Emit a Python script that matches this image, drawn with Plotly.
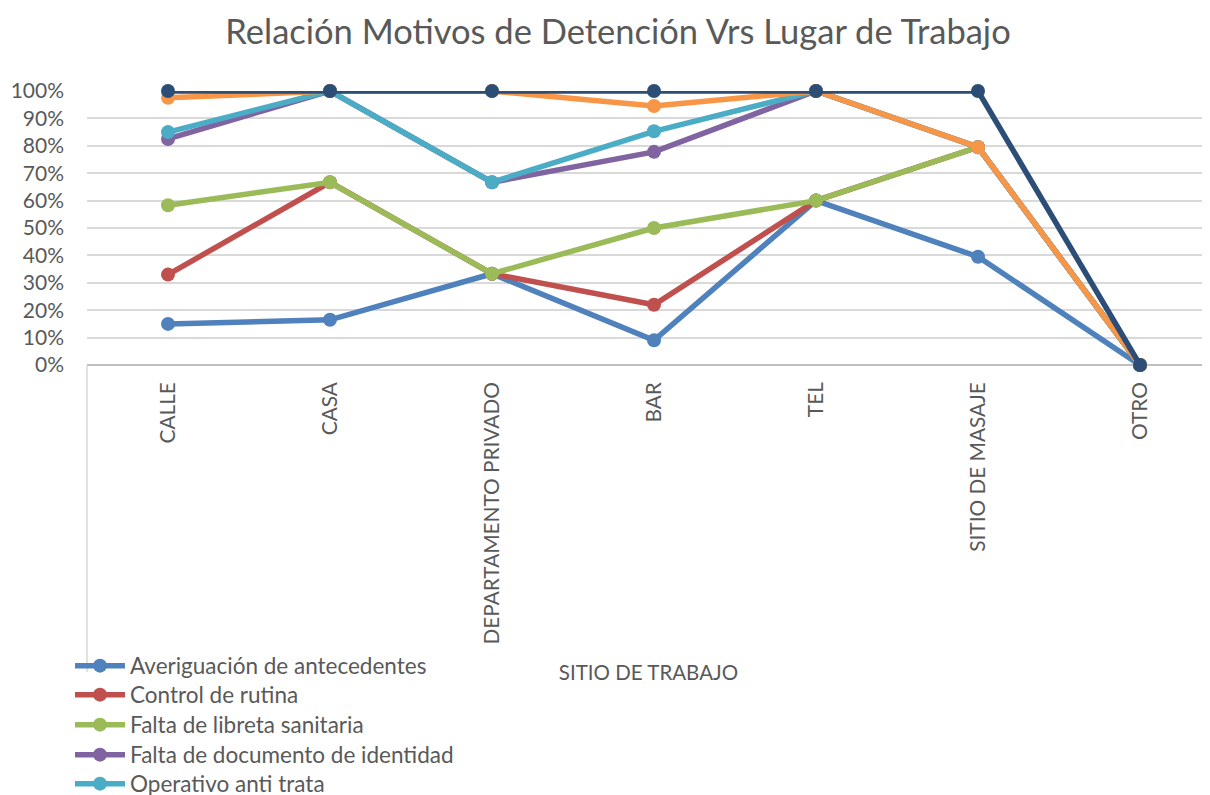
import plotly.graph_objects as go

categories = ["CALLE", "CASA", "DEPARTAMENTO PRIVADO", "BAR", "TEL", "SITIO DE MASAJE", "OTRO"]

averiguacion = [0.15, 0.165, 0.333, 0.09, 0.60, 0.395, 0.0]
control_rutina = [0.33, 0.667, 0.333, 0.22, 0.60, 0.795, 0.0]
falta_libreta = [0.583, 0.667, 0.333, 0.50, 0.60, 0.795, 0.0]
falta_documento = [0.825, 1.0, 0.667, 0.778, 1.0, 0.795, 0.0]
operativo = [0.85, 1.0, 0.667, 0.853, 1.0, 0.795, 0.0]
otros = [0.975, 1.0, 1.0, 0.945, 1.0, 0.795, 0.0]
total = [1.0, 1.0, 1.0, 1.0, 1.0, 1.0, 0.0]

series_names = [
    "Averiguación de antecedentes",
    "Control de rutina",
    "Falta de libreta sanitaria",
    "Falta de documento de identidad",
    "Operativo anti trata",
    "Otros",
    "Total",
]
series_values = [averiguacion, control_rutina, falta_libreta, falta_documento, operativo, otros, total]
colors = ["#4F81BD", "#C0504D", "#9BBB59", "#8064A2", "#4BACC6", "#F79646", "#2C4D75"]

FONT = "Lato"
TXT = "#595959"

OFF = 8  # page body margin
W, H = 1210 - OFF, 795 - OFF
plot_top, plot_bottom, plot_left = 91 - OFF, 365 - OFF, 87 - OFF
plot_h = plot_bottom - plot_top
plot_w = W - plot_left

def py(pix):
    return (plot_bottom - (pix - OFF)) / plot_h

def px(pix):
    return ((pix - OFF) - plot_left) / plot_w

legend_centers = [666, 695, 725, 755, 784]
legend_ids = ["legend", "legend2", "legend3", "legend4", "legend5"]

fig = go.Figure()
for i, (name, vals, col) in enumerate(zip(series_names, series_values, colors)):
    kw = {}
    if i < 5:
        kw["legend"] = legend_ids[i]
        kw["showlegend"] = True
    else:
        kw["showlegend"] = False
    fig.add_trace(go.Scatter(
        x=categories, y=vals, name=name, mode="lines+markers",
        line=dict(color=col, width=5.5),
        marker=dict(color=col, size=14),
        cliponaxis=False,
        **kw,
    ))

layout_legends = {}
for i, lid in enumerate(legend_ids):
    layout_legends[lid] = dict(
        x=px(70), xanchor="left",
        y=py(legend_centers[i]), yanchor="middle",
        bgcolor="rgba(0,0,0,0)", borderwidth=0,
        font=dict(family=FONT, size=22.5, color=TXT),
        itemwidth=50,
    )

fig.update_layout(
    width=W, height=H,
    paper_bgcolor="white", plot_bgcolor="white",
    margin=dict(l=plot_left, r=0, t=plot_top, b=H - plot_bottom, autoexpand=False),
    title=dict(
        text="Relación Motivos de Detención Vrs Lugar de Trabajo",
        x=(618 - OFF) / W, xanchor="center", xref="container",
        y=1 - (32 - OFF) / H, yanchor="middle", yref="container",
        font=dict(family=FONT, size=34.5, color=TXT),
    ),
    font=dict(family=FONT, color=TXT),
    xaxis=dict(
        type="category",
        range=[-0.5, 0.5 * plot_w / (168 - OFF - plot_left) - 0.5],
        showgrid=False, zeroline=False,
        showline=False,
        tickangle=-90,
        ticks="",
        ticklabelstandoff=12,
        tickfont=dict(family=FONT, size=20.8, color=TXT),
        automargin=False,
        title=dict(text="SITIO DE TRABAJO", font=dict(family=FONT, size=20.5, color=TXT), standoff=22),
    ),
    yaxis=dict(
        range=[0, 1],
        tickvals=[i / 10 for i in range(11)],
        tickformat=".0%",
        showgrid=True, gridcolor="#D9D9D9", gridwidth=1.5,
        zeroline=True, zerolinecolor="#BFBFBF", zerolinewidth=1.5,
        showline=False, ticks="",
        ticklabelstandoff=22,
        tickfont=dict(family=FONT, size=21, color=TXT),
        automargin=False,
    ),
    shapes=[dict(
        type="line", xref="paper", yref="paper",
        x0=0, x1=0, y0=0, y1=py(672),
        line=dict(color="#D9D9D9", width=1.5),
    )],
    **layout_legends,
)

fig.write_html("out.html")
